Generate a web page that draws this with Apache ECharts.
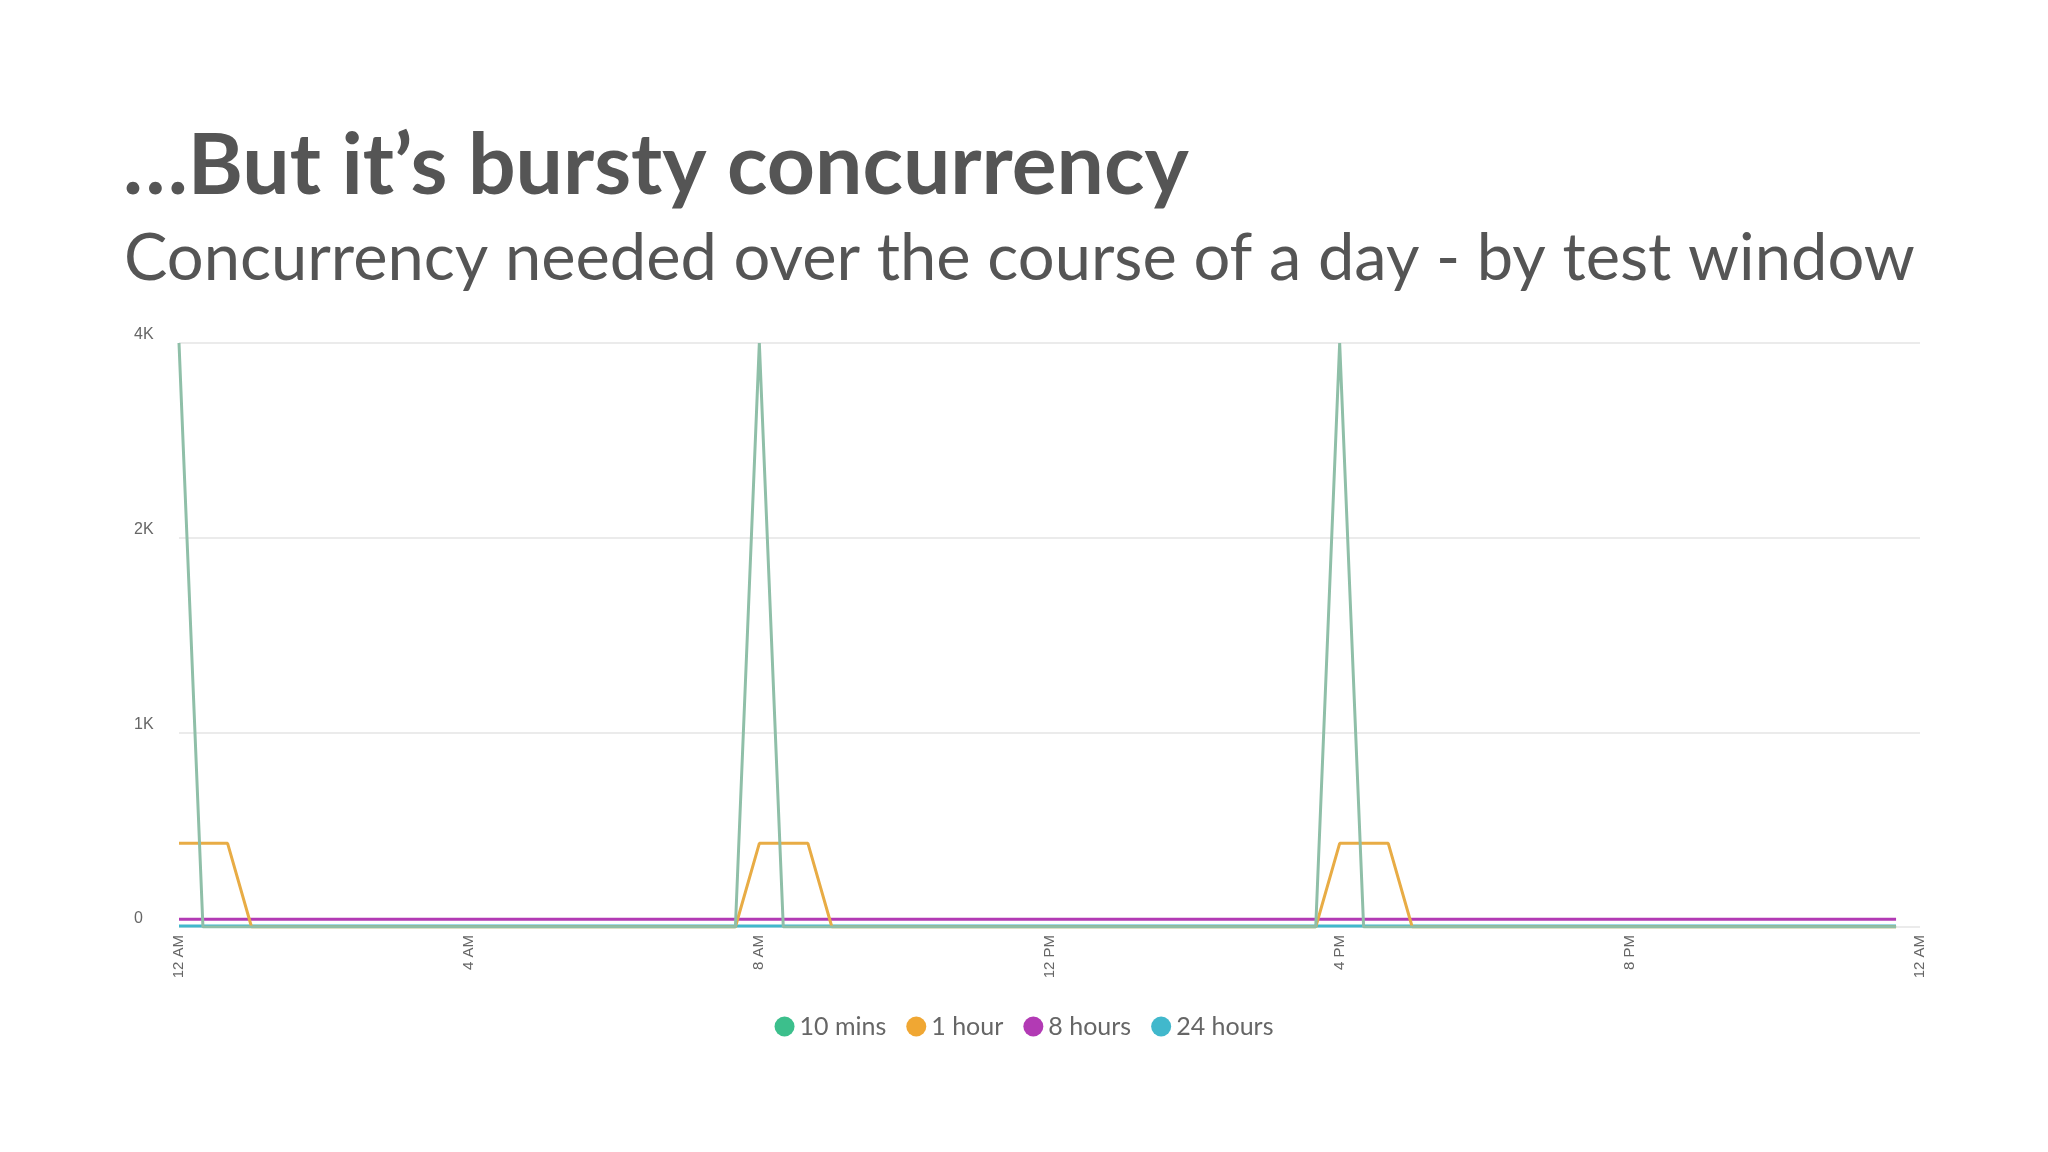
<!DOCTYPE html>
<head>
    <meta charset="utf-8">
    <script type="text/javascript" src="https://cdn.jsdelivr.net/npm/echarts@6/dist/echarts.min.js"></script>
</head>
<body style="height: 1152px; margin: 0; background: #fff">
<div id="container" style="width: 2048px; height: 1152px"></div>
<script type="text/javascript">
    // hours of day, values = concurrency
    var tenMins = [[0, 4000], [0.33, 0], [7.67, 0], [8, 4000], [8.33, 0], [15.67, 0], [16, 4000], [16.33, 0], [23.67, 0]];
    var oneHour = [[0, 430], [0.67, 430], [1, 0], [7.67, 0], [8, 430], [8.67, 430], [9, 0], [15.67, 0], [16, 430], [16.67, 430], [17, 0], [23.67, 0]];
    var eightHours = [[0, 40], [23.67, 40]];
    var dayLong = [[0, 5], [23.67, 5]];
    var yTicks = [0, 1000, 2000, 4000];
    var yTickLabels = ['0', '1K', '2K', '4K'];
    var hourLabels = {0: '12 AM', 4: '4 AM', 8: '8 AM', 12: '12 PM', 16: '4 PM', 20: '8 PM', 24: '12 AM'};

    // the source axis spaces 0,1K,2K,4K evenly: piecewise linear
    function toPos(v) {
        for (var i = 1; i < yTicks.length; i++) {
            if (v <= yTicks[i]) return (i - 1) + (v - yTicks[i - 1]) / (yTicks[i] - yTicks[i - 1]);
        }
        return yTicks.length - 1;
    }
    function conv(arr) { return arr.map(function (p) { return [p[0], toPos(p[1])]; }); }

    var myChart = echarts.init(document.getElementById('container'));
    var font = 'Lato';
    option = {
        animation: false,
        title: [
            {text: '…But it’s bursty concurrency', left: 118, top: 120,
             textStyle: {fontFamily: font, fontSize: 84, fontWeight: 'bold', color: '#555'}},
            {text: 'Concurrency needed over the course of a day - by test window', left: 119, top: 222,
             textStyle: {fontFamily: font, fontSize: 65, fontWeight: 'normal', color: '#555'}}
        ],
        legend: {
            bottom: 108, left: 'center', icon: 'circle', itemWidth: 20, itemHeight: 20, itemGap: 20,
            textStyle: {fontFamily: font, fontSize: 25, color: '#666'},
            data: ['10 mins', '1 hour', '8 hours', '24 hours']
        },
        grid: {left: 179, right: 128, top: 343, bottom: 225},
        xAxis: {
            type: 'value', min: 0, max: 24, interval: 4,
            axisLine: {show: false}, axisTick: {show: false}, splitLine: {show: false},
            axisLabel: {rotate: 90, fontSize: 15, color: '#666', formatter: function (v) { return hourLabels[v]; }}
        },
        yAxis: {
            type: 'value', min: 0, max: 3, interval: 1,
            axisLine: {show: false}, axisTick: {show: false},
            splitLine: {lineStyle: {color: '#e4e4e4', width: 1.5}},
            axisLabel: {fontSize: 16, color: '#666', align: 'left', margin: 45, verticalAlign: 'bottom',
                        formatter: function (v) { return yTickLabels[v]; }}
        },
        series: [
            {name: '10 mins', type: 'line', data: conv(tenMins), showSymbol: false, color: '#3cbf8c',
             lineStyle: {color: '#8fbfa8', width: 3}, z: 4},
            {name: '1 hour', type: 'line', data: conv(oneHour), showSymbol: false, color: '#f0a733',
             lineStyle: {color: '#e8ac45', width: 3}, z: 3},
            {name: '8 hours', type: 'line', data: conv(eightHours), showSymbol: false, color: '#b23ab4',
             lineStyle: {width: 3}, z: 2},
            {name: '24 hours', type: 'line', data: conv(dayLong), showSymbol: false, color: '#41b8cc',
             lineStyle: {width: 3}, z: 1}
        ]
    };
    myChart.setOption(option);
</script>
</body>
</html>
